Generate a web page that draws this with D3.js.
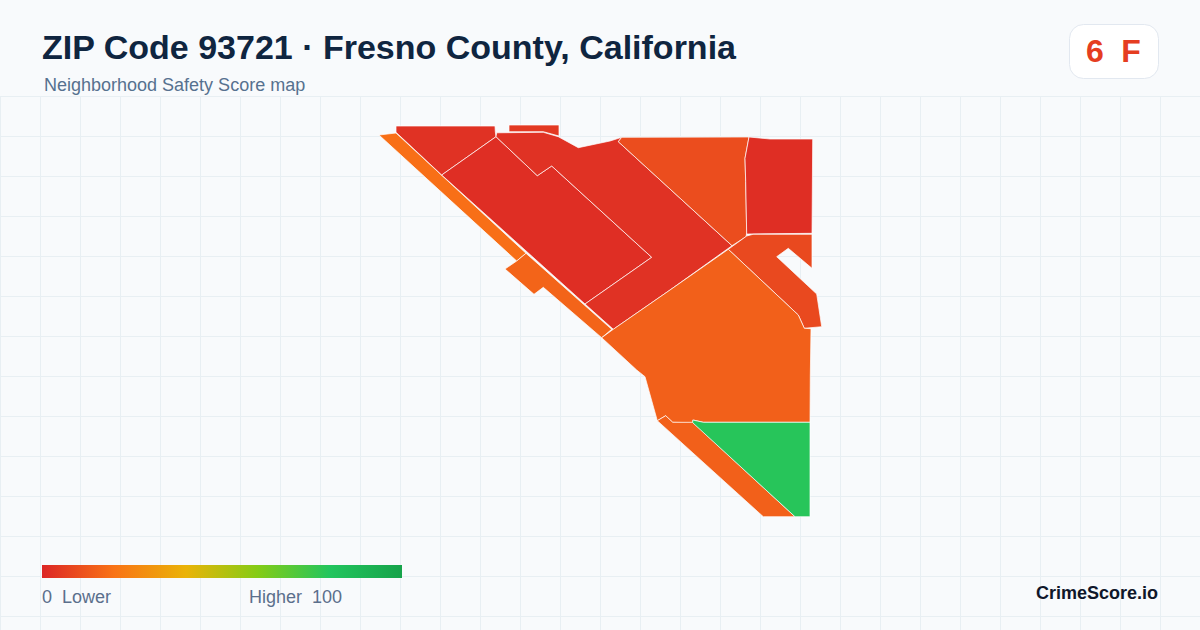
<!DOCTYPE html>
<html>
<head>
<meta charset="utf-8">
<script src="https://cdn.jsdelivr.net/npm/d3@7"></script>
<style>
  html, body { margin: 0; padding: 0; background: #f8fafc; }
  svg { display: block; font-family: "Liberation Sans", Arial, sans-serif; }
</style>
</head>
<body>
<svg id="stage" width="1200" height="630"></svg>
<script>
// map outlines are [east, north] in local map units
var tractNames = ['stripNorth', 'stripSouth', 'tipNorth', 'capRect', 'midBlock', 'eastBlock',
  'wedge', 'corner', 'elbow', 'core', 'stripLower', 'green'];
var tractScores = [19, 16, 3, 5, 2, 3, 10, 2, 9, 15, 15, 79];
var tractShapes = [
  [[9, 395], [26, 397], [156, 276.7], [146.7, 269]],
  [[156, 276.7], [241.7, 200.7], [231.7, 192.3], [173.3, 242.7], [164, 235.7], [135, 261], [146.7, 269]],
  [[26, 404], [125, 404], [125.3, 398.3], [126, 393.3], [71.7, 355], [26, 397.7]],
  [[139, 405], [189, 405], [189, 394], [173.3, 398.3], [139, 398.3]],
  [[126, 393.3], [167.3, 354.3], [181.7, 364], [281.7, 272.7], [215, 226], [71.7, 355]],
  [[126, 393.3], [126.7, 397.2], [173.3, 397.7], [188.3, 393.3], [208.3, 382.3], [240, 389], [251.7, 392.7], [248.3, 388.3],
    [362, 284.3], [300, 240], [243.3, 200.7], [215, 226], [281.7, 272.7], [181.7, 364], [167.3, 354.3]],
  [[251.7, 392.7], [379, 393], [375, 371.7], [375.7, 348.3], [376.7, 297], [376, 293.3], [362, 284.3], [248.3, 388.3]],
  [[379, 393], [400, 391], [423, 391], [442.7, 391], [442, 296.7], [376.7, 296], [375.7, 348.3], [375, 371.7]],
  [[376.7, 294], [383, 295.7], [442, 295.7], [442, 261.7], [418.3, 281.7], [406.7, 273.3], [446.7, 236],
    [451.7, 203.3], [434.3, 201.7], [428.3, 215], [358.3, 280.7]],
  [[358.3, 280.7], [428.3, 215], [434.3, 201.7], [441, 201.3], [440.3, 155], [440, 107.7], [333.3, 107.7],
    [323.3, 110], [322.7, 107.3], [302.7, 107.7], [295.7, 114.3], [287.3, 109.3], [275, 153.3], [266.7, 160],
    [231.7, 192.3], [243.3, 200.7], [300, 240]],
  [[287.3, 109.3], [295.7, 114.3], [302.7, 107.7], [322.7, 107.7], [425, 13.3], [393.3, 13.3]],
  [[322.7, 110], [333.3, 107.7], [440, 107.7], [440, 13.3], [425, 13.3], [322.7, 107.3]]
];

var legendStops = [0, 20, 40, 60, 80, 100];
var legendColors = ['#dc2626', '#f97316', '#eab308', '#84cc16', '#22c55e', '#16a34a'];
var overallScore = 6;
var overallGrade = 'F';

var svg = d3.select('#stage'),
    WIDTH = 1200,
    HEIGHT = 630,
    GRID = 40,
    GRID_TOP = 96;

var x = d3.scaleLinear().domain([0, 460]).range([370, 830]),
    y = d3.scaleLinear().domain([0, 420]).range([530, 110]),
    color = d3.scaleLinear().domain(legendStops).range(legendColors),
    legendX = d3.scaleLinear().domain([0, 100]).range([42, 402]);

var outline = d3.line()
  .x(function (d) { return x(d[0]); })
  .y(function (d) { return y(d[1]); })
  .curve(d3.curveLinearClosed);

svg.append('rect')
  .attr('width', WIDTH)
  .attr('height', HEIGHT)
  .attr('fill', '#f8fafc');

// background grid
var grid = svg.append('g')
  .attr('stroke', '#e8eff3')
  .attr('stroke-width', 1);

grid.selectAll('line.v')
  .data(d3.range(0, WIDTH, GRID))
  .enter().append('line')
  .attr('class', 'v')
  .attr('x1', function (d) { return d + 0.5; })
  .attr('x2', function (d) { return d + 0.5; })
  .attr('y1', GRID_TOP)
  .attr('y2', HEIGHT);

grid.selectAll('line.h')
  .data(d3.range(GRID_TOP, HEIGHT, GRID))
  .enter().append('line')
  .attr('class', 'h')
  .attr('x1', 0)
  .attr('x2', WIDTH)
  .attr('y1', function (d) { return d + 0.5; })
  .attr('y2', function (d) { return d + 0.5; });

// tracts
svg.append('g').selectAll('path')
  .data(tractNames)
  .enter().append('path')
  .attr('d', function (d, i) { return outline(tractShapes[i]); })
  .attr('fill', function (d, i) { return color(tractScores[i]); })
  .attr('stroke', '#ffffff')
  .attr('stroke-width', 0.7)
  .attr('stroke-linejoin', 'round');

// header
svg.append('text')
  .attr('x', 42)
  .attr('y', 59)
  .attr('font-size', 34)
  .attr('font-weight', 700)
  .attr('fill', '#0f2540')
  .text('ZIP Code 93721 · Fresno County, California');

svg.append('text')
  .attr('x', 44)
  .attr('y', 91)
  .attr('font-size', 18)
  .attr('fill', '#56718f')
  .text('Neighborhood Safety Score map');

// score badge
svg.append('rect')
  .attr('x', 1069.5)
  .attr('y', 24.5)
  .attr('width', 89)
  .attr('height', 54)
  .attr('rx', 14)
  .attr('fill', '#ffffff')
  .attr('stroke', '#e2e8f0');

svg.append('text')
  .attr('x', 1095)
  .attr('y', 62)
  .attr('text-anchor', 'middle')
  .attr('font-size', 32)
  .attr('font-weight', 700)
  .attr('fill', color(overallScore))
  .text(overallScore);

svg.append('text')
  .attr('x', 1131)
  .attr('y', 62)
  .attr('text-anchor', 'middle')
  .attr('font-size', 32)
  .attr('font-weight', 700)
  .attr('fill', color(overallScore))
  .text(overallGrade);

// legend
var gradient = svg.append('defs').append('linearGradient')
  .attr('id', 'legendRamp');

gradient.selectAll('stop')
  .data(legendStops)
  .enter().append('stop')
  .attr('offset', function (d) { return d + '%'; })
  .attr('stop-color', function (d) { return color(d); });

svg.append('rect')
  .attr('x', legendX(0))
  .attr('y', 565)
  .attr('width', legendX(100) - legendX(0))
  .attr('height', 13)
  .attr('fill', 'url(#legendRamp)');

svg.append('text')
  .attr('x', 42)
  .attr('y', 603)
  .attr('font-size', 18)
  .attr('fill', '#5b6f8c')
  .style('white-space', 'pre')
  .text('0  Lower');

svg.append('text')
  .attr('x', 249)
  .attr('y', 603)
  .attr('font-size', 18)
  .attr('fill', '#5b6f8c')
  .style('white-space', 'pre')
  .text('Higher  100');

svg.append('text')
  .attr('x', 1158)
  .attr('y', 599)
  .attr('text-anchor', 'end')
  .attr('font-size', 18)
  .attr('font-weight', 700)
  .attr('fill', '#0f172a')
  .text('CrimeScore.io');
</script>
</body>
</html>
